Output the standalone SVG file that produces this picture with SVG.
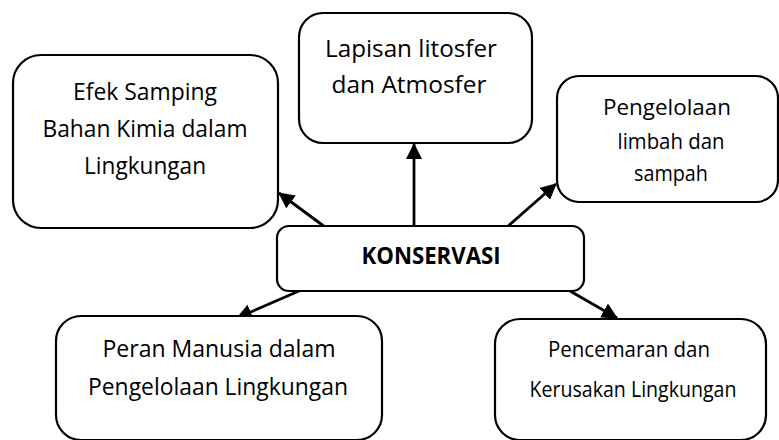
<svg xmlns="http://www.w3.org/2000/svg" width="779" height="440" viewBox="0 0 779 440">
<defs>
<marker id="ah" markerUnits="userSpaceOnUse" markerWidth="16" markerHeight="16" viewBox="0 0 16 16" refX="15" refY="8" orient="auto">
<path d="M0,0 L16,8 L0,16 Z" fill="#000"/>
</marker>
<style>
.box{fill:#fff;stroke:#000;stroke-width:2.2}
.t{font-family:"Open Sans","Liberation Sans",Arial,sans-serif;font-size:24px;fill:#000;text-anchor:middle}
.s{font-size:22px}
.b{font-weight:bold;font-size:23px}
.c{stroke:#000;stroke-width:2.8;fill:none;marker-end:url(#ah)}
</style>
</defs>
<rect width="779" height="440" fill="#fff"/>
<g id="connectors">
<line class="c" x1="325" y1="227" x2="279" y2="193"/>
<line class="c" x1="414" y1="226" x2="414" y2="144"/>
<line class="c" x1="507" y1="227" x2="556" y2="184"/>
<line class="c" x1="299" y1="291" x2="237" y2="318"/>
<line class="c" x1="570" y1="291" x2="617" y2="318"/>
</g>
<g id="efek">
<rect class="box" x="13" y="55" width="265" height="173" rx="28"/>
<text class="t" x="145" y="100" textLength="144" lengthAdjust="spacingAndGlyphs">Efek Samping</text>
<text class="t" x="145" y="137" textLength="205" lengthAdjust="spacingAndGlyphs">Bahan Kimia dalam</text>
<text class="t" x="145" y="174" textLength="122" lengthAdjust="spacingAndGlyphs">Lingkungan</text>
</g>
<g id="lapisan">
<rect class="box" x="299" y="13" width="233" height="130" rx="24"/>
<text class="t" x="411" y="57" textLength="172" lengthAdjust="spacingAndGlyphs">Lapisan litosfer</text>
<text class="t" x="409" y="93" textLength="155" lengthAdjust="spacingAndGlyphs">dan Atmosfer</text>
</g>
<g id="pengelolaan">
<rect class="box" x="557" y="76" width="221" height="126" rx="22"/>
<text class="t s" x="667" y="115" textLength="128" lengthAdjust="spacingAndGlyphs">Pengelolaan</text>
<text class="t s" x="671" y="149" textLength="107" lengthAdjust="spacingAndGlyphs">limbah dan</text>
<text class="t s" x="671" y="181" textLength="74" lengthAdjust="spacingAndGlyphs">sampah</text>
</g>
<g id="konservasi">
<rect class="box" x="277" y="226" width="307" height="65" rx="12"/>
<text class="t b" x="431" y="264" textLength="139" lengthAdjust="spacingAndGlyphs">KONSERVASI</text>
</g>
<g id="peran">
<rect class="box" x="56" y="316" width="326" height="124" rx="25"/>
<text class="t" x="219" y="357" textLength="233" lengthAdjust="spacingAndGlyphs">Peran Manusia dalam</text>
<text class="t" x="218" y="395" textLength="260" lengthAdjust="spacingAndGlyphs">Pengelolaan Lingkungan</text>
</g>
<g id="pencemaran">
<rect class="box" x="495" y="319" width="271" height="121" rx="25"/>
<text class="t s" x="629" y="357" textLength="162" lengthAdjust="spacingAndGlyphs">Pencemaran dan</text>
<text class="t s" x="633" y="397" textLength="207" lengthAdjust="spacingAndGlyphs">Kerusakan Lingkungan</text>
</g>
</svg>
